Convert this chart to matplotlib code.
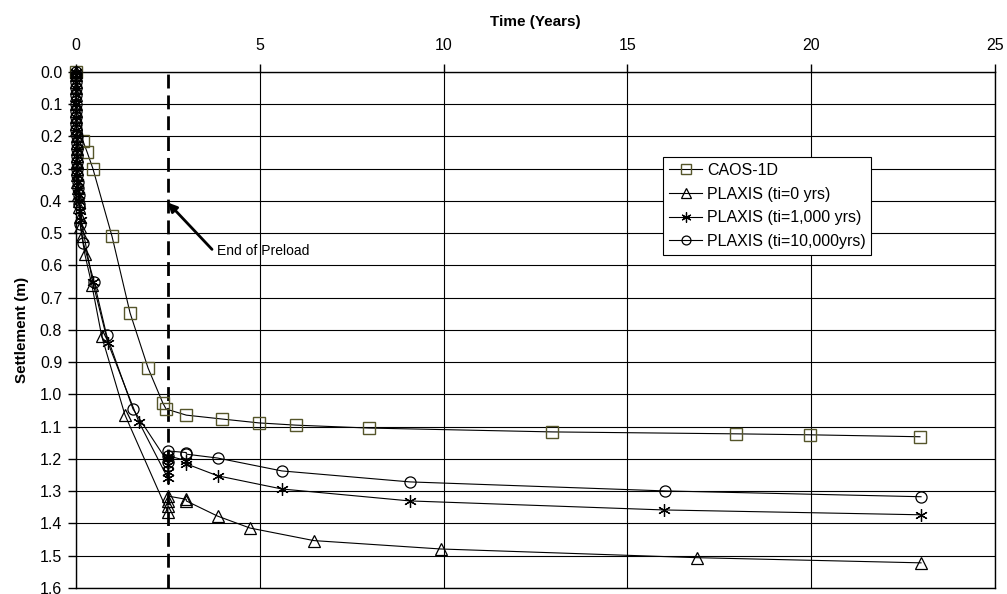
import matplotlib
matplotlib.use("Agg")
import matplotlib.pyplot as plt

plt.rcParams['font.family'] = ['Liberation Sans', 'DejaVu Sans']

# ---------------- data ----------------
caos_t = [0.0, 0.19, 0.3, 0.46, 0.98, 1.47, 1.96, 2.36, 2.45, 3.0, 3.97, 4.97, 5.98, 7.96, 12.96, 17.96, 19.97, 22.96]
caos_s = [0.0, 0.214, 0.248, 0.30, 0.51, 0.747, 0.918, 1.026, 1.045, 1.064, 1.076, 1.088, 1.095, 1.104, 1.116, 1.122, 1.125, 1.131]

ti0_t = [0.0, 0.0, 0.0, 0.0, 0.0, 0.0, 0.01, 0.01, 0.01, 0.01, 0.02, 0.02, 0.02, 0.03, 0.03, 0.03, 0.04, 0.04, 0.05, 0.06,
         0.07, 0.08, 0.1, 0.12, 0.16, 0.24, 0.43, 0.7, 1.33,
         2.5, 2.5, 2.5, 2.5, 3.0, 3.0, 3.85, 4.73, 6.47, 9.92, 16.9, 22.99]
ti0_s = [0.0, 0.01, 0.03, 0.05, 0.07, 0.1, 0.12, 0.14, 0.16, 0.18, 0.2, 0.22, 0.24, 0.26, 0.28, 0.3, 0.32, 0.34, 0.36, 0.38,
         0.4, 0.42, 0.45, 0.48, 0.51, 0.565, 0.66, 0.82, 1.063,
         1.365, 1.345, 1.33, 1.315, 1.325, 1.33, 1.377, 1.414, 1.453, 1.479, 1.506, 1.522]

ti1k_t = [0.0, 0.0, 0.0, 0.0, 0.0, 0.0, 0.01, 0.01, 0.01, 0.01, 0.02, 0.02, 0.02, 0.03, 0.03, 0.04, 0.04, 0.05, 0.06, 0.07,
          0.09, 0.11, 0.14, 0.45, 0.87, 1.71,
          2.5, 2.5, 2.5, 2.5, 2.5, 3.0, 3.0, 3.85, 5.6, 9.08, 16.0, 22.99]
ti1k_s = [0.0, 0.01, 0.03, 0.05, 0.07, 0.1, 0.12, 0.14, 0.16, 0.18, 0.2, 0.22, 0.24, 0.26, 0.28, 0.3, 0.32, 0.34, 0.36, 0.38,
          0.4, 0.43, 0.46, 0.65, 0.84, 1.085,
          1.26, 1.24, 1.22, 1.2, 1.19, 1.205, 1.215, 1.252, 1.293, 1.33, 1.358, 1.373]

ti10k_t = [0.0, 0.0, 0.0, 0.0, 0.0, 0.0, 0.01, 0.01, 0.01, 0.01, 0.02, 0.02, 0.02, 0.03, 0.03, 0.04, 0.04, 0.05, 0.06, 0.07,
           0.09, 0.12, 0.2, 0.49, 0.83, 1.55,
           2.5, 2.5, 2.5, 3.0, 3.0, 3.85, 5.6, 9.08, 16.03, 22.99]
ti10k_s = [0.0, 0.01, 0.03, 0.05, 0.07, 0.1, 0.12, 0.14, 0.16, 0.18, 0.2, 0.22, 0.24, 0.26, 0.28, 0.3, 0.32, 0.34, 0.36, 0.38,
           0.41, 0.47, 0.53, 0.65, 0.815, 1.045,
           1.21, 1.19, 1.175, 1.18, 1.185, 1.197, 1.237, 1.271, 1.299, 1.317]

preload_end = 2.5
x_ticks = [0, 5, 10, 15, 20, 25]
y_ticks = [0.0, 0.1, 0.2, 0.3, 0.4, 0.5, 0.6, 0.7, 0.8, 0.9, 1.0, 1.1, 1.2, 1.3, 1.4, 1.5, 1.6]

# ---------------- plot ----------------
fig = plt.figure(figsize=(10.07, 5.94), dpi=100)
ax = fig.add_axes([0.0755, 0.0101, 0.9125, 0.8687])

olive = '#55552a'
ax.plot(caos_t, caos_s, color='black', lw=0.8, marker='s', ms=8.5, mfc='none', mec=olive, mew=1.0,
        label='CAOS-1D', zorder=3, clip_on=False)
ax.plot(ti0_t, ti0_s, color='black', lw=0.8, marker='^', ms=8.5, mfc='none', mec='black', mew=0.9,
        label='PLAXIS (ti=0 yrs)', zorder=3, clip_on=False)
ax.plot(ti1k_t, ti1k_s, color='black', lw=0.8, marker=(6, 2, 0), ms=9, mec='black', mew=0.9,
        label='PLAXIS (ti=1,000 yrs)', zorder=3, clip_on=False)
ax.plot(ti10k_t, ti10k_s, color='black', lw=0.8, marker='o', ms=8, mfc='none', mec='black', mew=0.9,
        label='PLAXIS (ti=10,000yrs)', zorder=3, clip_on=False)

# end of preload marker line + arrow note
ax.axvline(preload_end, color='black', lw=2, ls=(0, (5, 2.5)), zorder=2)
ax.annotate('', xy=(preload_end, 0.405), xytext=(3.7, 0.55),
            arrowprops=dict(arrowstyle='-|>', color='black', lw=2, mutation_scale=13,
                            shrinkA=0, shrinkB=0))
ax.text(3.84, 0.555, 'End of Preload', fontsize=10, ha='left', va='center')

ax.set_xlim(0, 25)
ax.set_ylim(1.6, 0.0)
ax.xaxis.tick_top()
ax.xaxis.set_label_position('top')
ax.set_xticks(x_ticks)
ax.set_yticks(y_ticks)
ax.set_yticklabels([f'{v:.1f}' for v in y_ticks])
ax.tick_params(axis='both', labelsize=11.5, length=6, width=1, direction='out', color='black')
ax.tick_params(axis='x', pad=8)
ax.tick_params(axis='y', pad=4)
ax.set_xlabel('Time (Years)', fontsize=11, fontweight='bold', labelpad=8)
ax.set_ylabel('Settlement (m)', fontsize=11, fontweight='bold', labelpad=8)

ax.grid(True, color='black', lw=0.8)
ax.set_axisbelow(True)
for sp in ax.spines.values():
    sp.set_linewidth(1.0)
    sp.set_color('black')

leg = ax.legend(loc='upper left', bbox_to_anchor=(0.639, 0.835), fontsize=11.5, frameon=True,
                fancybox=False, edgecolor='black', framealpha=1, borderpad=0.35,
                handlelength=2.1, handletextpad=0.3, labelspacing=0.55, borderaxespad=0,
                markerscale=0.8)
leg.get_frame().set_linewidth(0.8)
leg.set_zorder(5)

plt.savefig('out.png', dpi=100)
